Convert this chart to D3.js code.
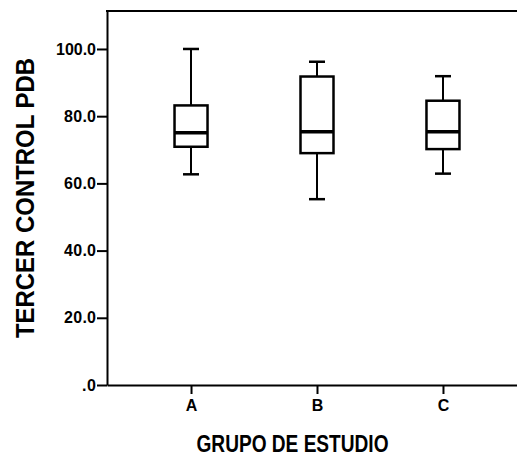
<!DOCTYPE html>
<html>
<head>
<meta charset="utf-8">
<script src="https://cdn.jsdelivr.net/npm/d3@7"></script>
<style>
  body { margin: 0; background: #fff; }
  text { font-family: "Liberation Sans", Arial, sans-serif; font-weight: bold; fill: #000; }
</style>
</head>
<body>
<div id="chart"></div>
<script>
// groups and box-plot stats
var groups = ["A", "B", "C"];
var whiskerLow = [62.7, 55.3, 62.9];
var quart1 = [70.9, 69.0, 70.2];
var medians = [75.1, 75.4, 75.4];
var quart3 = [83.2, 91.8, 84.6];
var whiskerHigh = [100.0, 96.2, 91.9];
var yTicks = [0, 20, 40, 60, 80, 100];

var data = groups.map(function (g, i) {
    return { group: g, lo: whiskerLow[i], q1: quart1[i], med: medians[i], q3: quart3[i], hi: whiskerHigh[i] };
});

var width = 517, height = 455;
var plotLeft = 107, plotRight = 527, plotTop = 11, plotBottom = 385;

var svg = d3.select("#chart")
    .append("svg")
    .attr("width", width)
    .attr("height", height);

// scales
var xScale = d3.scalePoint()
    .domain(groups)
    .range([plotLeft, plotRight])
    .padding(0.667);

var yScale = d3.scaleLinear()
    .domain([0, 111.3])
    .range([plotBottom, plotTop]);

// top frame line
svg.append("line")
    .attr("x1", plotLeft - 1).attr("x2", plotRight)
    .attr("y1", plotTop).attr("y2", plotTop)
    .attr("stroke", "#000")
    .attr("stroke-width", 2);

// y axis
var yAxis = svg.append("g")
    .attr("transform", "translate(" + plotLeft + ",0)")
    .call(d3.axisLeft(yScale)
        .tickValues(yTicks)
        .tickSize(10)
        .tickSizeOuter(0)
        .tickPadding(1)
        .tickFormat(function (d) { return d === 0 ? ".0" : d3.format(".1f")(d); }));
yAxis.attr("font-size", null).attr("font-family", null);
yAxis.selectAll("path, line").attr("stroke", "#000").attr("stroke-width", 2);
yAxis.selectAll("text").style("font-size", "16px").attr("textLength", function (d) { return d === 100 ? 40 : d === 0 ? 14 : 32; });

// x axis
var xAxis = svg.append("g")
    .attr("transform", "translate(0," + plotBottom + ")")
    .call(d3.axisBottom(xScale)
        .tickSize(9)
        .tickSizeOuter(0)
        .tickPadding(6));
xAxis.attr("font-size", null).attr("font-family", null);
xAxis.selectAll("path, line").attr("stroke", "#000").attr("stroke-width", 2);
xAxis.selectAll("text").style("font-size", "16px");

// boxes
var boxW = 33, capW = 16;
var box = svg.selectAll(".box")
    .data(data)
    .enter().append("g")
    .attr("class", "box");

// whiskers
box.append("line")
    .attr("x1", function (d) { return xScale(d.group); })
    .attr("x2", function (d) { return xScale(d.group); })
    .attr("y1", function (d) { return yScale(d.hi); })
    .attr("y2", function (d) { return yScale(d.lo); })
    .attr("stroke", "#000")
    .attr("stroke-width", 2);

// caps
["lo", "hi"].forEach(function (k) {
    box.append("line")
        .attr("x1", function (d) { return xScale(d.group) - capW / 2; })
        .attr("x2", function (d) { return xScale(d.group) + capW / 2; })
        .attr("y1", function (d) { return yScale(d[k]); })
        .attr("y2", function (d) { return yScale(d[k]); })
        .attr("stroke", "#000")
        .attr("stroke-width", 2.5);
});

// box body
box.append("rect")
    .attr("x", function (d) { return xScale(d.group) - boxW / 2; })
    .attr("width", boxW)
    .attr("y", function (d) { return yScale(d.q3); })
    .attr("height", function (d) { return yScale(d.q1) - yScale(d.q3); })
    .attr("fill", "#fff")
    .attr("stroke", "#000")
    .attr("stroke-width", 2.5);

// median
box.append("line")
    .attr("x1", function (d) { return xScale(d.group) - boxW / 2; })
    .attr("x2", function (d) { return xScale(d.group) + boxW / 2; })
    .attr("y1", function (d) { return yScale(d.med); })
    .attr("y2", function (d) { return yScale(d.med); })
    .attr("stroke", "#000")
    .attr("stroke-width", 3.5);

// axis titles
svg.append("text")
    .attr("transform", "translate(34,198) rotate(-90)")
    .style("text-anchor", "middle")
    .style("font-size", "25px")
    .attr("textLength", 280)
    .attr("lengthAdjust", "spacingAndGlyphs")
    .text("TERCER CONTROL PDB");

svg.append("text")
    .attr("x", 292.5)
    .attr("y", 451.5)
    .style("text-anchor", "middle")
    .style("font-size", "24px")
    .attr("textLength", 192)
    .attr("lengthAdjust", "spacingAndGlyphs")
    .text("GRUPO DE ESTUDIO");
</script>
</body>
</html>
